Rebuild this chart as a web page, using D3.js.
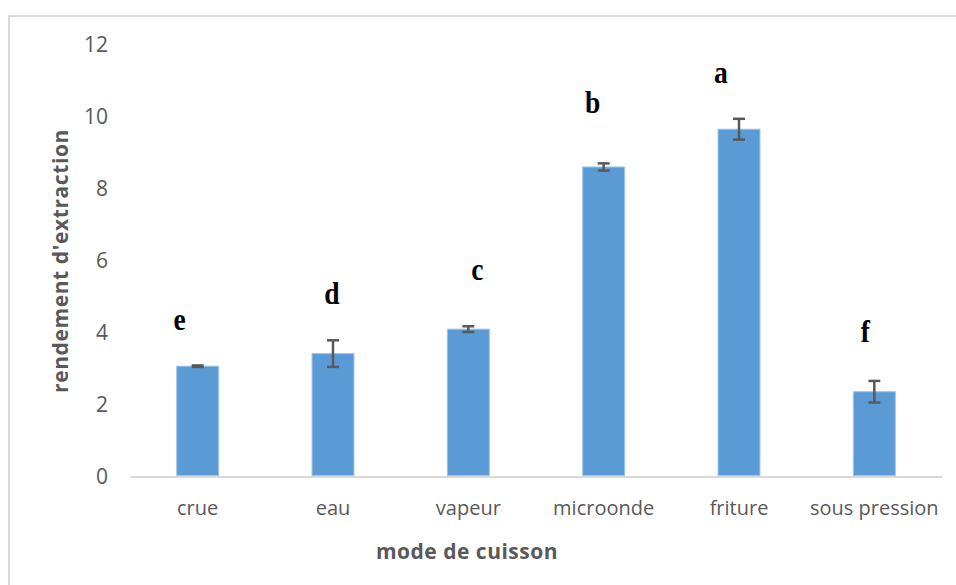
<!DOCTYPE html>
<html>
<head>
<meta charset="utf-8">
<script src="https://cdn.jsdelivr.net/npm/d3@7"></script>
<style>
  html, body { margin: 0; padding: 0; background: #fff; }
  svg { display: block; }
</style>
</head>
<body>
<div id="chart"></div>
<script>
// Extraction yield by cooking method (mean ± error), with significance letters
const categories = ["crue", "eau", "vapeur", "microonde", "friture", "sous pression"];
const yieldValues = [3.04, 3.39, 4.07, 8.58, 9.63, 2.33];
const errorValues = [0.02, 0.37, 0.08, 0.10, 0.29, 0.30];
const groupLetters = ["e", "d", "c", "b", "a", "f"];
const yTicks = [0, 2, 4, 6, 8, 10, 12];

// Hand-placed nudges for the significance letters (pixels: dx from bar centre, gap above error bar)
const letterNudge = [[-18, 35], [-1, 36], [9, 46], [-11, 50], [-18, 36], [-9, 39]];

const W = 956, H = 585;
const plot = { left: 130, right: 942, top: 44, bottom: 475.5 };

const svg = d3.select("#chart").append("svg")
  .attr("width", W).attr("height", H);

// Chart area frame (only its top and left edges fall inside the page)
svg.append("rect")
  .attr("x", 9).attr("y", 16)
  .attr("width", 1200).attr("height", 1000)
  .attr("fill", "#fff")
  .attr("stroke", "#D9D9D9").attr("stroke-width", 2);

const x = d3.scaleBand()
  .domain(categories)
  .range([plot.left, plot.right])
  .paddingInner(0.69).paddingOuter(0.345);

const y = d3.scaleLinear()
  .domain([0, 12])
  .range([plot.bottom, plot.top]);

const data = categories.map((c, i) => ({
  cat: c, v: yieldValues[i], e: errorValues[i], letter: groupLetters[i], nudge: letterNudge[i]
}));

// Y axis labels only (no line, no gridlines)
const yAxis = svg.append("g")
  .attr("transform", `translate(${plot.left - 22},0)`)
  .call(d3.axisLeft(y).tickValues(yTicks).tickSize(0).tickPadding(0).tickFormat(d3.format("d")));
yAxis.select(".domain").remove();
yAxis.selectAll("text")
  .attr("font-family", "'Open Sans', sans-serif")
  .attr("font-size", 21)
  .attr("fill", "#595959")
  .attr("dy", "0.36em");

// Bars
svg.append("g").selectAll("rect")
  .data(data).join("rect")
  .attr("x", d => x(d.cat))
  .attr("y", d => y(d.v))
  .attr("width", x.bandwidth())
  .attr("height", d => y(0) - y(d.v))
  .attr("fill", "#5B9BD5")
  .attr("stroke", "#9DC3E6")
  .attr("stroke-width", 1);

// Category axis line and labels
const xAxis = svg.append("g")
  .attr("transform", `translate(0,${plot.bottom + 1})`)
  .call(d3.axisBottom(x).tickSize(0).tickPadding(24));
xAxis.select(".domain")
  .attr("stroke", "#D9D9D9").attr("stroke-width", 2);
xAxis.selectAll("text")
  .attr("font-family", "'Open Sans', sans-serif")
  .attr("font-size", 20)
  .attr("fill", "#595959");

// Error bars
const cap = 12;
const eb = svg.append("g")
  .attr("stroke", "#595959")
  .attr("stroke-width", 2.5)
  .attr("fill", "none");
data.forEach(d => {
  const cx = x(d.cat) + x.bandwidth() / 2;
  const y1 = y(d.v + d.e), y0 = y(d.v - d.e);
  eb.append("line").attr("x1", cx).attr("x2", cx).attr("y1", y1).attr("y2", y0);
  eb.append("line").attr("x1", cx - cap / 2).attr("x2", cx + cap / 2).attr("y1", y1).attr("y2", y1);
  eb.append("line").attr("x1", cx - cap / 2).attr("x2", cx + cap / 2).attr("y1", y0).attr("y2", y0);
});

// Significance letters (slightly tall serif glyphs)
svg.append("g").selectAll("text")
  .data(data).join("text")
  .attr("transform", d =>
    `translate(${x(d.cat) + x.bandwidth() / 2 + d.nudge[0]},${y(d.v + d.e) - d.nudge[1]}) scale(0.95,1.12)`)
  .attr("text-anchor", "middle")
  .attr("font-family", "'Liberation Serif', 'Times New Roman', serif")
  .attr("font-weight", "bold")
  .attr("font-size", 29)
  .attr("fill", "#000")
  .text(d => d.letter);

// Axis titles
svg.append("text")
  .attr("transform", "translate(68,261) rotate(-90)")
  .attr("text-anchor", "middle")
  .attr("font-family", "'Open Sans', sans-serif")
  .attr("font-weight", "bold")
  .attr("font-size", 21)
  .attr("letter-spacing", 0.6)
  .attr("fill", "#595959")
  .text("rendement d'extraction");

svg.append("text")
  .attr("x", 467).attr("y", 559)
  .attr("text-anchor", "middle")
  .attr("font-family", "'Open Sans', sans-serif")
  .attr("font-weight", "bold")
  .attr("font-size", 21)
  .attr("letter-spacing", 0.5)
  .attr("fill", "#595959")
  .text("mode de cuisson");
</script>
</body>
</html>
